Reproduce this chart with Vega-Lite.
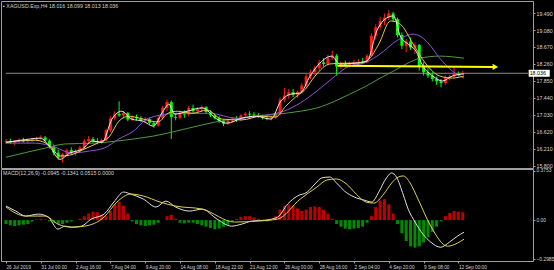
{
"$schema":"https://vega.github.io/schema/vega-lite/v6.json",
"background":"#000000",
"padding":0,
"spacing":1,
"bounds":"flush",
"config":{
 "view":{"stroke":"#a0a0a0","strokeWidth":1},
 "axis":{"labelFont":"Liberation Sans","labelColor":"#d4d4d4","tickColor":"#a0a0a0","domain":false,"grid":false,"tickSize":2,"labelPadding":1,"labelOverlap":false,"title":null},
 "axisY":{"labelOverlap":false}
},
"datasets":{
"bars":[
{"i":0,"o":16.38,"h":16.45,"l":16.33,"c":16.40,"m":-0.03},
{"i":2,"o":16.40,"h":16.46,"l":16.34,"c":16.36,"m":-0.04},
{"i":4,"o":16.36,"h":16.42,"l":16.30,"c":16.40,"m":-0.045},
{"i":6,"o":16.40,"h":16.47,"l":16.36,"c":16.43,"m":-0.04},
{"i":8,"o":16.43,"h":16.48,"l":16.37,"c":16.39,"m":-0.035},
{"i":10,"o":16.39,"h":16.44,"l":16.35,"c":16.41,"m":-0.03},
{"i":12,"o":16.41,"h":16.47,"l":16.38,"c":16.44,"m":-0.01},
{"i":14,"o":16.44,"h":16.50,"l":16.40,"c":16.47,"m":0.005},
{"i":16,"o":16.47,"h":16.54,"l":16.43,"c":16.49,"m":0.01},
{"i":18,"o":16.49,"h":16.52,"l":16.38,"c":16.41,"m":0.005},
{"i":20,"o":16.41,"h":16.44,"l":16.22,"c":16.27,"m":-0.01},
{"i":22,"o":16.27,"h":16.32,"l":16.05,"c":16.12,"m":-0.02},
{"i":24,"o":16.12,"h":16.20,"l":15.95,"c":16.00,"m":-0.03},
{"i":26,"o":16.00,"h":16.12,"l":15.88,"c":16.08,"m":-0.03},
{"i":28,"o":16.08,"h":16.22,"l":16.02,"c":16.18,"m":-0.02},
{"i":30,"o":16.18,"h":16.25,"l":16.08,"c":16.12,"m":-0.01},
{"i":32,"o":16.12,"h":16.20,"l":16.05,"c":16.16,"m":0},
{"i":34,"o":16.16,"h":16.28,"l":16.12,"c":16.24,"m":0.01},
{"i":36,"o":16.24,"h":16.45,"l":16.20,"c":16.40,"m":0.03},
{"i":38,"o":16.40,"h":16.52,"l":16.34,"c":16.45,"m":0.05},
{"i":40,"o":16.45,"h":16.50,"l":16.36,"c":16.40,"m":0.065},
{"i":42,"o":16.40,"h":16.47,"l":16.32,"c":16.38,"m":0.06},
{"i":44,"o":16.38,"h":16.46,"l":16.33,"c":16.42,"m":0.04},
{"i":46,"o":16.42,"h":16.70,"l":16.40,"c":16.66,"m":0.03},
{"i":48,"o":16.66,"h":17.00,"l":16.62,"c":16.95,"m":0.07},
{"i":50,"o":16.95,"h":17.12,"l":16.90,"c":17.06,"m":0.12},
{"i":52,"o":17.06,"h":17.36,"l":16.98,"c":17.02,"m":0.14},
{"i":54,"o":17.02,"h":17.12,"l":16.94,"c":17.08,"m":0.11},
{"i":56,"o":17.08,"h":17.10,"l":16.88,"c":16.92,"m":0.05},
{"i":58,"o":16.92,"h":17.02,"l":16.88,"c":16.98,"m":-0.01},
{"i":60,"o":16.98,"h":17.04,"l":16.90,"c":16.95,"m":-0.03},
{"i":62,"o":16.95,"h":17.00,"l":16.86,"c":16.90,"m":-0.04},
{"i":64,"o":16.90,"h":16.98,"l":16.83,"c":16.93,"m":-0.045},
{"i":66,"o":16.93,"h":16.96,"l":16.80,"c":16.84,"m":-0.04},
{"i":68,"o":16.84,"h":16.88,"l":16.72,"c":16.78,"m":-0.035},
{"i":70,"o":16.78,"h":17.00,"l":16.75,"c":16.96,"m":-0.02},
{"i":72,"o":16.96,"h":17.25,"l":16.92,"c":17.20,"m":0},
{"i":74,"o":17.20,"h":17.40,"l":17.12,"c":17.34,"m":0.03},
{"i":76,"o":17.34,"h":17.38,"l":16.45,"c":16.98,"m":0.04},
{"i":78,"o":16.98,"h":17.05,"l":16.90,"c":16.96,"m":0.01},
{"i":80,"o":16.96,"h":17.10,"l":16.92,"c":17.06,"m":-0.02},
{"i":82,"o":17.06,"h":17.14,"l":16.96,"c":17.04,"m":-0.025},
{"i":84,"o":17.04,"h":17.25,"l":17.00,"c":17.20,"m":-0.02},
{"i":86,"o":17.20,"h":17.28,"l":17.08,"c":17.12,"m":-0.02},
{"i":88,"o":17.12,"h":17.22,"l":17.06,"c":17.18,"m":-0.03},
{"i":90,"o":17.18,"h":17.26,"l":17.10,"c":17.22,"m":-0.04},
{"i":92,"o":17.22,"h":17.24,"l":17.06,"c":17.10,"m":-0.05},
{"i":94,"o":17.10,"h":17.14,"l":16.98,"c":17.02,"m":-0.06},
{"i":96,"o":17.02,"h":17.06,"l":16.92,"c":16.96,"m":-0.07},
{"i":98,"o":16.96,"h":17.00,"l":16.84,"c":16.88,"m":-0.065},
{"i":100,"o":16.88,"h":16.92,"l":16.76,"c":16.82,"m":-0.05},
{"i":102,"o":16.82,"h":16.94,"l":16.80,"c":16.90,"m":-0.035},
{"i":104,"o":16.90,"h":16.98,"l":16.84,"c":16.94,"m":-0.01},
{"i":106,"o":16.94,"h":17.00,"l":16.86,"c":16.92,"m":0.01},
{"i":108,"o":16.92,"h":17.05,"l":16.88,"c":17.02,"m":0.025},
{"i":110,"o":17.02,"h":17.10,"l":16.96,"c":17.06,"m":0.03},
{"i":112,"o":17.06,"h":17.12,"l":17.00,"c":17.04,"m":0.03},
{"i":114,"o":17.04,"h":17.10,"l":16.98,"c":17.02,"m":0.02},
{"i":116,"o":17.02,"h":17.08,"l":16.96,"c":17.00,"m":0.01},
{"i":118,"o":17.00,"h":17.04,"l":16.92,"c":16.96,"m":-0.005},
{"i":120,"o":16.96,"h":17.02,"l":16.90,"c":16.94,"m":-0.01},
{"i":122,"o":16.94,"h":17.00,"l":16.90,"c":16.97,"m":0},
{"i":124,"o":16.97,"h":17.10,"l":16.94,"c":17.06,"m":0.03},
{"i":126,"o":17.06,"h":17.45,"l":17.02,"c":17.40,"m":0.08},
{"i":128,"o":17.40,"h":17.68,"l":17.34,"c":17.50,"m":0.11},
{"i":130,"o":17.50,"h":17.66,"l":17.42,"c":17.58,"m":0.12},
{"i":132,"o":17.58,"h":17.66,"l":17.46,"c":17.52,"m":0.11},
{"i":134,"o":17.52,"h":17.62,"l":17.44,"c":17.58,"m":0.09},
{"i":136,"o":17.58,"h":17.80,"l":17.54,"c":17.74,"m":0.07},
{"i":138,"o":17.74,"h":18.02,"l":17.70,"c":17.96,"m":0.08},
{"i":140,"o":17.96,"h":18.12,"l":17.90,"c":18.06,"m":0.1},
{"i":142,"o":18.06,"h":18.22,"l":18.00,"c":18.16,"m":0.105},
{"i":144,"o":18.16,"h":18.36,"l":18.10,"c":18.30,"m":0.1},
{"i":146,"o":18.30,"h":18.40,"l":18.20,"c":18.26,"m":0.08},
{"i":148,"o":18.26,"h":18.48,"l":18.22,"c":18.40,"m":0.05},
{"i":150,"o":18.40,"h":18.58,"l":18.36,"c":18.46,"m":0.01},
{"i":152,"o":18.46,"h":18.50,"l":17.98,"c":18.20,"m":-0.03},
{"i":154,"o":18.20,"h":18.32,"l":18.14,"c":18.26,"m":-0.05},
{"i":156,"o":18.26,"h":18.34,"l":18.18,"c":18.24,"m":-0.065},
{"i":158,"o":18.24,"h":18.32,"l":18.18,"c":18.28,"m":-0.07},
{"i":160,"o":18.28,"h":18.36,"l":18.22,"c":18.30,"m":-0.065},
{"i":162,"o":18.30,"h":18.38,"l":18.24,"c":18.32,"m":-0.06},
{"i":164,"o":18.32,"h":18.40,"l":18.26,"c":18.30,"m":-0.05},
{"i":166,"o":18.30,"h":18.50,"l":18.28,"c":18.46,"m":-0.02},
{"i":168,"o":18.46,"h":19.00,"l":18.44,"c":18.94,"m":0.03},
{"i":170,"o":18.94,"h":19.22,"l":18.85,"c":19.15,"m":0.1},
{"i":172,"o":19.15,"h":19.40,"l":19.08,"c":19.30,"m":0.15},
{"i":174,"o":19.30,"h":19.48,"l":19.20,"c":19.38,"m":0.16},
{"i":176,"o":19.38,"h":19.56,"l":19.32,"c":19.48,"m":0.12},
{"i":178,"o":19.48,"h":19.52,"l":19.28,"c":19.34,"m":0.05},
{"i":180,"o":19.34,"h":19.38,"l":18.90,"c":18.96,"m":-0.03},
{"i":182,"o":18.96,"h":19.02,"l":18.62,"c":18.70,"m":-0.1},
{"i":184,"o":18.70,"h":18.86,"l":18.55,"c":18.80,"m":-0.16},
{"i":186,"o":18.80,"h":18.90,"l":18.60,"c":18.66,"m":-0.2},
{"i":188,"o":18.66,"h":18.78,"l":18.50,"c":18.72,"m":-0.21},
{"i":190,"o":18.72,"h":18.74,"l":18.10,"c":18.20,"m":-0.2},
{"i":192,"o":18.20,"h":18.30,"l":17.98,"c":18.06,"m":-0.17},
{"i":194,"o":18.06,"h":18.16,"l":17.92,"c":17.98,"m":-0.13},
{"i":196,"o":17.98,"h":18.06,"l":17.84,"c":17.90,"m":-0.09},
{"i":198,"o":17.90,"h":17.96,"l":17.76,"c":17.84,"m":-0.05},
{"i":200,"o":17.84,"h":17.90,"l":17.70,"c":17.80,"m":-0.01},
{"i":202,"o":17.80,"h":17.98,"l":17.76,"c":17.94,"m":0.03},
{"i":204,"o":17.94,"h":18.00,"l":17.86,"c":17.96,"m":0.055},
{"i":206,"o":17.96,"h":18.20,"l":17.92,"c":18.02,"m":0.07},
{"i":208,"o":18.02,"h":18.08,"l":17.96,"c":18.00,"m":0.065},
{"i":210,"o":18.016,"h":18.099,"l":18.013,"c":18.036,"m":0.06}
],
"maG":[{"i":0,"p":16.01},{"i":18,"p":16.23},{"i":27.1,"p":16.33},{"i":40.6,"p":16.35},{"i":54.1,"p":16.42},{"i":67.7,"p":16.52},{"i":76.7,"p":16.62},{"i":90.2,"p":16.79},{"i":101.5,"p":16.91},{"i":112.8,"p":16.98},{"i":124.9,"p":17.05},{"i":135.3,"p":17.12},{"i":143,"p":17.2},{"i":151.1,"p":17.36},{"i":157.9,"p":17.53},{"i":164.6,"p":17.7},{"i":171.4,"p":17.9},{"i":178.2,"p":18.09},{"i":184,"p":18.26},{"i":190.4,"p":18.4},{"i":199.4,"p":18.45},{"i":210.6,"p":18.4}],
"maP":[{"i":0,"p":16.35},{"i":13.5,"p":16.35},{"i":22.6,"p":16.25},{"i":30.2,"p":16.11},{"i":38.3,"p":16.16},{"i":45.1,"p":16.23},{"i":51.9,"p":16.45},{"i":58.6,"p":16.64},{"i":65.4,"p":16.95},{"i":78.9,"p":17.07},{"i":93.8,"p":17.07},{"i":106,"p":16.95},{"i":115,"p":17.0},{"i":127.7,"p":17.12},{"i":135.3,"p":17.32},{"i":143,"p":17.61},{"i":150.2,"p":17.92},{"i":157.9,"p":18.21},{"i":164.6,"p":18.28},{"i":169.1,"p":18.4},{"i":173.7,"p":18.57},{"i":178.2,"p":18.77},{"i":182.7,"p":18.91},{"i":187.2,"p":18.98},{"i":190.4,"p":18.93},{"i":194,"p":18.77},{"i":199.4,"p":18.4},{"i":205.2,"p":18.09},{"i":210.6,"p":17.92}],
"maY":[{"i":0,"p":16.37},{"i":13.5,"p":16.42},{"i":20.3,"p":16.28},{"i":24.8,"p":16.04},{"i":29.3,"p":16.06},{"i":36.1,"p":16.21},{"i":42.9,"p":16.37},{"i":47.4,"p":16.5},{"i":51.9,"p":16.88},{"i":56.4,"p":17.0},{"i":63.1,"p":16.93},{"i":69.9,"p":16.86},{"i":74.4,"p":17.07},{"i":78.9,"p":17.12},{"i":85.7,"p":17.07},{"i":92.5,"p":17.15},{"i":99.2,"p":16.93},{"i":108.3,"p":16.91},{"i":117.3,"p":17.0},{"i":124,"p":16.98},{"i":128.6,"p":17.24},{"i":133.1,"p":17.46},{"i":137.6,"p":17.65},{"i":142.1,"p":17.97},{"i":148.9,"p":18.26},{"i":155.6,"p":18.28},{"i":162.4,"p":18.28},{"i":166.9,"p":18.38},{"i":171.4,"p":18.74},{"i":176.8,"p":19.3},{"i":181.3,"p":19.22},{"i":187.2,"p":18.74},{"i":193.1,"p":18.26},{"i":199.4,"p":17.97},{"i":205.2,"p":17.92},{"i":210.6,"p":17.97}],
"maW":[{"i":0,"p":16.37},{"i":6.8,"p":16.42},{"i":15.8,"p":16.47},{"i":20.3,"p":16.25},{"i":24.8,"p":15.96},{"i":29.3,"p":16.11},{"i":35.2,"p":16.21},{"i":39.7,"p":16.4},{"i":44.2,"p":16.37},{"i":48.7,"p":16.93},{"i":53.2,"p":17.12},{"i":57.7,"p":16.93},{"i":63.1,"p":16.88},{"i":67.7,"p":16.76},{"i":72.2,"p":17.12},{"i":74.9,"p":17.29},{"i":77.6,"p":17.05},{"i":83.4,"p":17.12},{"i":90.2,"p":17.2},{"i":97,"p":16.93},{"i":101.5,"p":16.83},{"i":108.3,"p":16.95},{"i":115,"p":17.0},{"i":121.8,"p":16.93},{"i":126.3,"p":17.36},{"i":130.8,"p":17.53},{"i":135.3,"p":17.56},{"i":139.8,"p":17.97},{"i":144.3,"p":18.28},{"i":149.8,"p":18.45},{"i":153.4,"p":18.26},{"i":160.1,"p":18.28},{"i":166,"p":18.33},{"i":170.5,"p":19.06},{"i":175,"p":19.37},{"i":178.2,"p":19.42},{"i":181.3,"p":18.93},{"i":184.9,"p":18.74},{"i":188.5,"p":18.57},{"i":191.7,"p":18.21},{"i":196.2,"p":17.97},{"i":200.7,"p":17.85},{"i":205.2,"p":17.97},{"i":210.6,"p":18.02}],
"macd":[{"i":0,"p":0.107},{"i":4.5,"p":0.069},{"i":9,"p":0.031},{"i":14.9,"p":0.046},{"i":19.4,"p":0.023},{"i":23.9,"p":-0.069},{"i":27.1,"p":-0.046},{"i":30.2,"p":-0.054},{"i":34.7,"p":-0.046},{"i":39.2,"p":0.008},{"i":45.1,"p":0.046},{"i":49.6,"p":0.138},{"i":54.1,"p":0.214},{"i":57.3,"p":0.199},{"i":63.1,"p":0.161},{"i":69,"p":0.1},{"i":73.5,"p":0.145},{"i":78,"p":0.1},{"i":84.3,"p":0.069},{"i":90.2,"p":0.084},{"i":97,"p":0.008},{"i":103.7,"p":-0.046},{"i":108.3,"p":-0.031},{"i":112.8,"p":-0.008},{"i":119.5,"p":0},{"i":124.9,"p":0.023},{"i":129.5,"p":0.123},{"i":134,"p":0.184},{"i":138.5,"p":0.214},{"i":142.1,"p":0.276},{"i":145.2,"p":0.322},{"i":148.9,"p":0.329},{"i":152,"p":0.283},{"i":155.6,"p":0.222},{"i":160.1,"p":0.176},{"i":164.6,"p":0.153},{"i":168.2,"p":0.138},{"i":171.4,"p":0.214},{"i":174.6,"p":0.314},{"i":177.3,"p":0.36},{"i":179.5,"p":0.329},{"i":182.7,"p":0.191},{"i":184.9,"p":0.084},{"i":188.1,"p":-0.015},{"i":191.7,"p":-0.107},{"i":195.3,"p":-0.168},{"i":199.8,"p":-0.207},{"i":203.9,"p":-0.168},{"i":207.5,"p":-0.123},{"i":210.6,"p":-0.092}],
"sig":[{"i":0,"p":0.1},{"i":9,"p":0.031},{"i":18,"p":0.031},{"i":23.9,"p":-0.031},{"i":30.2,"p":-0.054},{"i":36.1,"p":-0.046},{"i":45.1,"p":0.023},{"i":51,"p":0.138},{"i":57.3,"p":0.199},{"i":63.1,"p":0.184},{"i":70.8,"p":0.138},{"i":78,"p":0.107},{"i":90.2,"p":0.084},{"i":105.1,"p":-0.015},{"i":115,"p":-0.008},{"i":124.9,"p":0.008},{"i":135.3,"p":0.161},{"i":143,"p":0.253},{"i":147.5,"p":0.306},{"i":152,"p":0.314},{"i":156.5,"p":0.276},{"i":161,"p":0.199},{"i":165.5,"p":0.138},{"i":169.1,"p":0.13},{"i":173.7,"p":0.199},{"i":177.3,"p":0.283},{"i":180.4,"p":0.329},{"i":182.7,"p":0.337},{"i":185.8,"p":0.283},{"i":189.4,"p":0.161},{"i":195.3,"p":-0.046},{"i":203,"p":-0.199},{"i":207.5,"p":-0.176},{"i":210.6,"p":-0.145}],
"arrow":[{"i":152.5,"p":18.215},{"i":224,"p":18.19}],
"head":[{"i":225,"p":18.19}],
"last":[{"i":240.3,"i2":250,"p":18.036,"lo":17.952,"hi":18.12,"t":"18.036","a":0,"b":240}]
},
"vconcat":[
{
 "width":532,"height":167,
 "title":{"text":"▪ XAGUSD.Exp,H4  18.016 18.099 18.013 18.036","anchor":"start","orient":"top","offset":-8,"dx":2,"font":"Liberation Sans","fontSize":5.3,"fontWeight":"normal","color":"#d4d4d4"},
 "layer":[
  {"data":{"name":"last"},"mark":{"type":"rule","color":"#8a8a8a","strokeWidth":1},
   "encoding":{"x":{"field":"a","type":"quantitative","scale":{"domain":[0,240],"nice":false,"zero":false},"axis":null},"x2":{"field":"b"},
    "y":{"field":"p","type":"quantitative","scale":{"domain":[15.75,19.78],"nice":false,"zero":false},
     "axis":{"orient":"right","values":[15.8,16.21,16.62,17.03,17.44,17.85,18.26,18.67,19.08,19.49],"format":".3f","labelFontSize":5.3,"labelPadding":1,"tickSize":2,"labelOverlap":false}}}},
  {"data":{"name":"bars"},"mark":{"type":"rule","strokeWidth":1},
   "encoding":{"x":{"field":"i","type":"quantitative","scale":{"domain":[0,240],"nice":false,"zero":false},"axis":null},
    "y":{"field":"l","type":"quantitative","scale":{"domain":[15.75,19.78],"nice":false,"zero":false},
     "axis":{"orient":"right","values":[15.8,16.21,16.62,17.03,17.44,17.85,18.26,18.67,19.08,19.49],"format":".3f","labelFontSize":5.3,"labelPadding":1,"tickSize":2,"labelOverlap":false}},"y2":{"field":"h"},
    "color":{"condition":{"test":"datum.c >= datum.o","value":"#ff1a1a"},"value":"#00ff00"}}},
  {"data":{"name":"bars"},"mark":{"type":"bar","size":3},
   "encoding":{"x":{"field":"i","type":"quantitative","scale":{"domain":[0,240],"nice":false,"zero":false},"axis":null},
    "y":{"field":"o","type":"quantitative","scale":{"domain":[15.75,19.78],"nice":false,"zero":false},
     "axis":{"orient":"right","values":[15.8,16.21,16.62,17.03,17.44,17.85,18.26,18.67,19.08,19.49],"format":".3f","labelFontSize":5.3,"labelPadding":1,"tickSize":2,"labelOverlap":false}},"y2":{"field":"c"},
    "color":{"condition":{"test":"datum.c >= datum.o","value":"#ff1a1a"},"value":"#00ff00"}}},
  {"data":{"name":"maG"},"mark":{"type":"line","color":"#4f9a3a","strokeWidth":1,"interpolate":"monotone"},
   "encoding":{"x":{"field":"i","type":"quantitative","axis":null},"y":{"field":"p","type":"quantitative",
     "axis":{"orient":"right","values":[15.8,16.21,16.62,17.03,17.44,17.85,18.26,18.67,19.08,19.49],"format":".3f","labelFontSize":5.3,"labelPadding":1,"tickSize":2,"labelOverlap":false}}}},
  {"data":{"name":"maP"},"mark":{"type":"line","color":"#8e52d8","strokeWidth":1,"interpolate":"monotone"},
   "encoding":{"x":{"field":"i","type":"quantitative","axis":null},"y":{"field":"p","type":"quantitative",
     "axis":{"orient":"right","values":[15.8,16.21,16.62,17.03,17.44,17.85,18.26,18.67,19.08,19.49],"format":".3f","labelFontSize":5.3,"labelPadding":1,"tickSize":2,"labelOverlap":false}}}},
  {"data":{"name":"maY"},"mark":{"type":"line","color":"#e6c84a","strokeWidth":1,"interpolate":"monotone"},
   "encoding":{"x":{"field":"i","type":"quantitative","axis":null},"y":{"field":"p","type":"quantitative",
     "axis":{"orient":"right","values":[15.8,16.21,16.62,17.03,17.44,17.85,18.26,18.67,19.08,19.49],"format":".3f","labelFontSize":5.3,"labelPadding":1,"tickSize":2,"labelOverlap":false}}}},
  {"data":{"name":"maW"},"mark":{"type":"line","color":"#f4eaea","strokeWidth":1,"interpolate":"monotone"},
   "encoding":{"x":{"field":"i","type":"quantitative","axis":null},"y":{"field":"p","type":"quantitative",
     "axis":{"orient":"right","values":[15.8,16.21,16.62,17.03,17.44,17.85,18.26,18.67,19.08,19.49],"format":".3f","labelFontSize":5.3,"labelPadding":1,"tickSize":2,"labelOverlap":false}}}},
  {"data":{"name":"arrow"},"mark":{"type":"line","color":"#ffff00","strokeWidth":2},
   "encoding":{"x":{"field":"i","type":"quantitative","axis":null},"y":{"field":"p","type":"quantitative",
     "axis":{"orient":"right","values":[15.8,16.21,16.62,17.03,17.44,17.85,18.26,18.67,19.08,19.49],"format":".3f","labelFontSize":5.3,"labelPadding":1,"tickSize":2,"labelOverlap":false}}}},
  {"data":{"name":"head"},"mark":{"type":"point","shape":"triangle-right","filled":true,"color":"#ffff00","size":40,"opacity":1},
   "encoding":{"x":{"field":"i","type":"quantitative","axis":null},"y":{"field":"p","type":"quantitative",
     "axis":{"orient":"right","values":[15.8,16.21,16.62,17.03,17.44,17.85,18.26,18.67,19.08,19.49],"format":".3f","labelFontSize":5.3,"labelPadding":1,"tickSize":2,"labelOverlap":false}}}},
  {"data":{"name":"last"},"mark":{"type":"rect","color":"#ffffff"},
   "encoding":{"x":{"field":"i","type":"quantitative","axis":null},"x2":{"field":"i2"},"y":{"field":"lo","type":"quantitative",
     "axis":{"orient":"right","values":[15.8,16.21,16.62,17.03,17.44,17.85,18.26,18.67,19.08,19.49],"format":".3f","labelFontSize":5.3,"labelPadding":1,"tickSize":2,"labelOverlap":false}},"y2":{"field":"hi"}}},
  {"data":{"name":"last"},"mark":{"type":"text","color":"#000000","align":"left","baseline":"middle","font":"Liberation Sans","fontSize":5.3,"dx":1},
   "encoding":{"x":{"field":"i","type":"quantitative","axis":null},"y":{"field":"p","type":"quantitative",
     "axis":{"orient":"right","values":[15.8,16.21,16.62,17.03,17.44,17.85,18.26,18.67,19.08,19.49],"format":".3f","labelFontSize":5.3,"labelPadding":1,"tickSize":2,"labelOverlap":false}},"text":{"field":"t"}}}
 ]
},
{
 "width":532,"height":92,
 "title":{"text":"MACD(12,26,9) -0.0945 -0.1341 0.0515 0.0000","anchor":"start","orient":"top","offset":-8,"dx":2,"font":"Liberation Sans","fontSize":5.3,"fontWeight":"normal","color":"#d4d4d4"},
 "layer":[
  {"data":{"name":"bars"},"mark":{"type":"bar","size":3},
   "encoding":{"x":{"field":"i","type":"quantitative","scale":{"domain":[0,240],"nice":false,"zero":false},
     "axis":{"values":[0,16,32,48,64,80,96,112,128,144,160,176,192,208],"labelAlign":"left","labelFlush":false,"labelOverlap":false,"labelFontSize":4.7,"tickSize":2,"labelPadding":1,
      "labelExpr":"['26 Jul 2019','31 Jul 00:00','2 Aug 16:00','7 Aug 04:00','9 Aug 20:00','14 Aug 08:00','18 Aug 22:00','21 Aug 12:00','26 Aug 00:00','28 Aug 16:00','2 Sep 04:00','4 Sep 20:00','9 Sep 08:00','12 Sep 00:00'][round(datum.value/16)]"}},
    "y":{"field":"m","type":"quantitative","scale":{"domain":[-0.312,0.39],"nice":false,"zero":false},
     "axis":{"orient":"right","values":[0.3753,0,-0.2985],"labelFontSize":4.9,"tickSize":2,"labelPadding":1,"labelOverlap":false,"labelExpr":"datum.value == 0 ? '0.00' : format(datum.value, '.4f')"}},
    "y2":{"datum":0},
    "color":{"condition":{"test":"datum.m >= 0","value":"#c00000"},"value":"#008c00"}}},
  {"data":{"name":"macd"},"mark":{"type":"line","color":"#e0e0e0","strokeWidth":1,"interpolate":"monotone"},
   "encoding":{"x":{"field":"i","type":"quantitative",
     "axis":{"values":[0,16,32,48,64,80,96,112,128,144,160,176,192,208],"labelAlign":"left","labelFlush":false,"labelOverlap":false,"labelFontSize":4.7,"tickSize":2,"labelPadding":1,
      "labelExpr":"['26 Jul 2019','31 Jul 00:00','2 Aug 16:00','7 Aug 04:00','9 Aug 20:00','14 Aug 08:00','18 Aug 22:00','21 Aug 12:00','26 Aug 00:00','28 Aug 16:00','2 Sep 04:00','4 Sep 20:00','9 Sep 08:00','12 Sep 00:00'][round(datum.value/16)]"}},
    "y":{"field":"p","type":"quantitative",
     "axis":{"orient":"right","values":[0.3753,0,-0.2985],"labelFontSize":4.9,"tickSize":2,"labelPadding":1,"labelOverlap":false,"labelExpr":"datum.value == 0 ? '0.00' : format(datum.value, '.4f')"}}}},
  {"data":{"name":"sig"},"mark":{"type":"line","color":"#e0d050","strokeWidth":1,"interpolate":"monotone"},
   "encoding":{"x":{"field":"i","type":"quantitative",
     "axis":{"values":[0,16,32,48,64,80,96,112,128,144,160,176,192,208],"labelAlign":"left","labelFlush":false,"labelOverlap":false,"labelFontSize":4.7,"tickSize":2,"labelPadding":1,
      "labelExpr":"['26 Jul 2019','31 Jul 00:00','2 Aug 16:00','7 Aug 04:00','9 Aug 20:00','14 Aug 08:00','18 Aug 22:00','21 Aug 12:00','26 Aug 00:00','28 Aug 16:00','2 Sep 04:00','4 Sep 20:00','9 Sep 08:00','12 Sep 00:00'][round(datum.value/16)]"}},
    "y":{"field":"p","type":"quantitative",
     "axis":{"orient":"right","values":[0.3753,0,-0.2985],"labelFontSize":4.9,"tickSize":2,"labelPadding":1,"labelOverlap":false,"labelExpr":"datum.value == 0 ? '0.00' : format(datum.value, '.4f')"}}}}
 ]
}
]
}
